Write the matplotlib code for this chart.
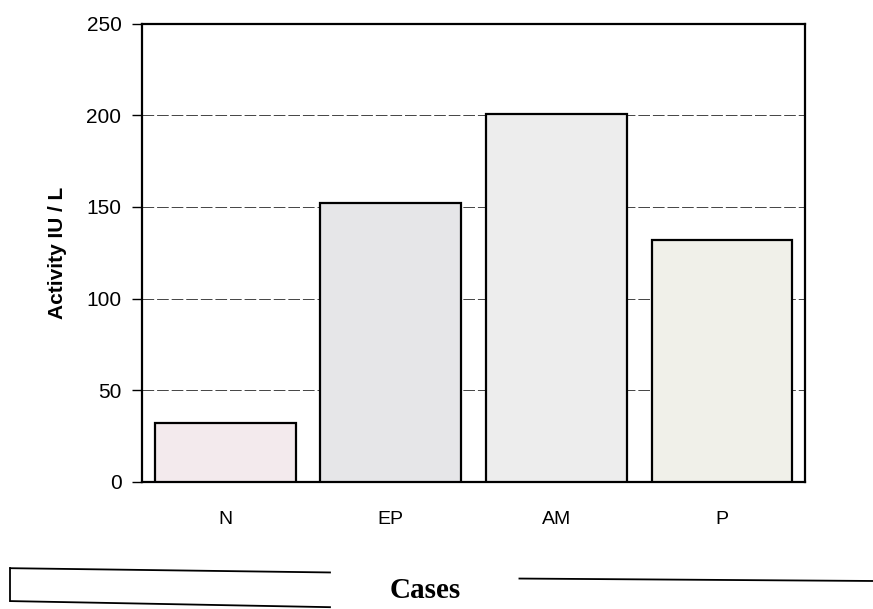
import matplotlib.pyplot as plt
from matplotlib.lines import Line2D

cases = ["N", "EP", "AM", "P"]
activity = [32, 152, 201, 132]
bar_colors = ["#f3eaed", "#e6e6e8", "#ededed", "#f0f0e9"]
y_ticks = [0, 50, 100, 150, 200, 250]

plt.rcParams["font.family"] = ["Liberation Sans", "DejaVu Sans"]

fig = plt.figure(figsize=(8.73, 6.09), dpi=100)
ax = fig.add_axes([0.163, 0.209, 0.759, 0.752])

x = range(len(cases))
ax.bar(x, activity, width=0.85, color=bar_colors, edgecolor="black", linewidth=1.6, zorder=3)

ax.set_xlim(-0.5, len(cases) - 0.5)
ax.set_ylim(0, 250)
ax.set_yticks(y_ticks)
ax.set_yticklabels([str(t) for t in y_ticks], fontsize=15)
ax.set_xticks(list(x))
ax.set_xticklabels(cases, fontsize=14)
ax.tick_params(axis="x", length=0, pad=21)
ax.tick_params(axis="y", length=7, width=1, direction="out", pad=8)
ax.yaxis.grid(True, color="#444444", linewidth=0.7, linestyle=(0, (12, 3)), zorder=0)

for s in ax.spines.values():
    s.set_linewidth(1.6)
    s.set_color("black")

ax.set_ylabel("Activity IU / L", fontsize=15, fontweight="bold", labelpad=14)

# box and line around the "Cases" caption at the bottom
fig.text(0.487, 0.030, "Cases", ha="center", va="center", fontsize=21,
         fontweight="bold", family="Liberation Serif")
fig.add_artist(Line2D([0.012, 0.378], [0.067, 0.060], color="black", lw=1.3))
fig.add_artist(Line2D([0.012, 0.378], [0.013, 0.003], color="black", lw=1.3))
fig.add_artist(Line2D([0.012, 0.012], [0.013, 0.067], color="black", lw=1.3))
fig.add_artist(Line2D([0.595, 1.0], [0.050, 0.046], color="black", lw=1.3))

fig.savefig("out.png", dpi=100)
